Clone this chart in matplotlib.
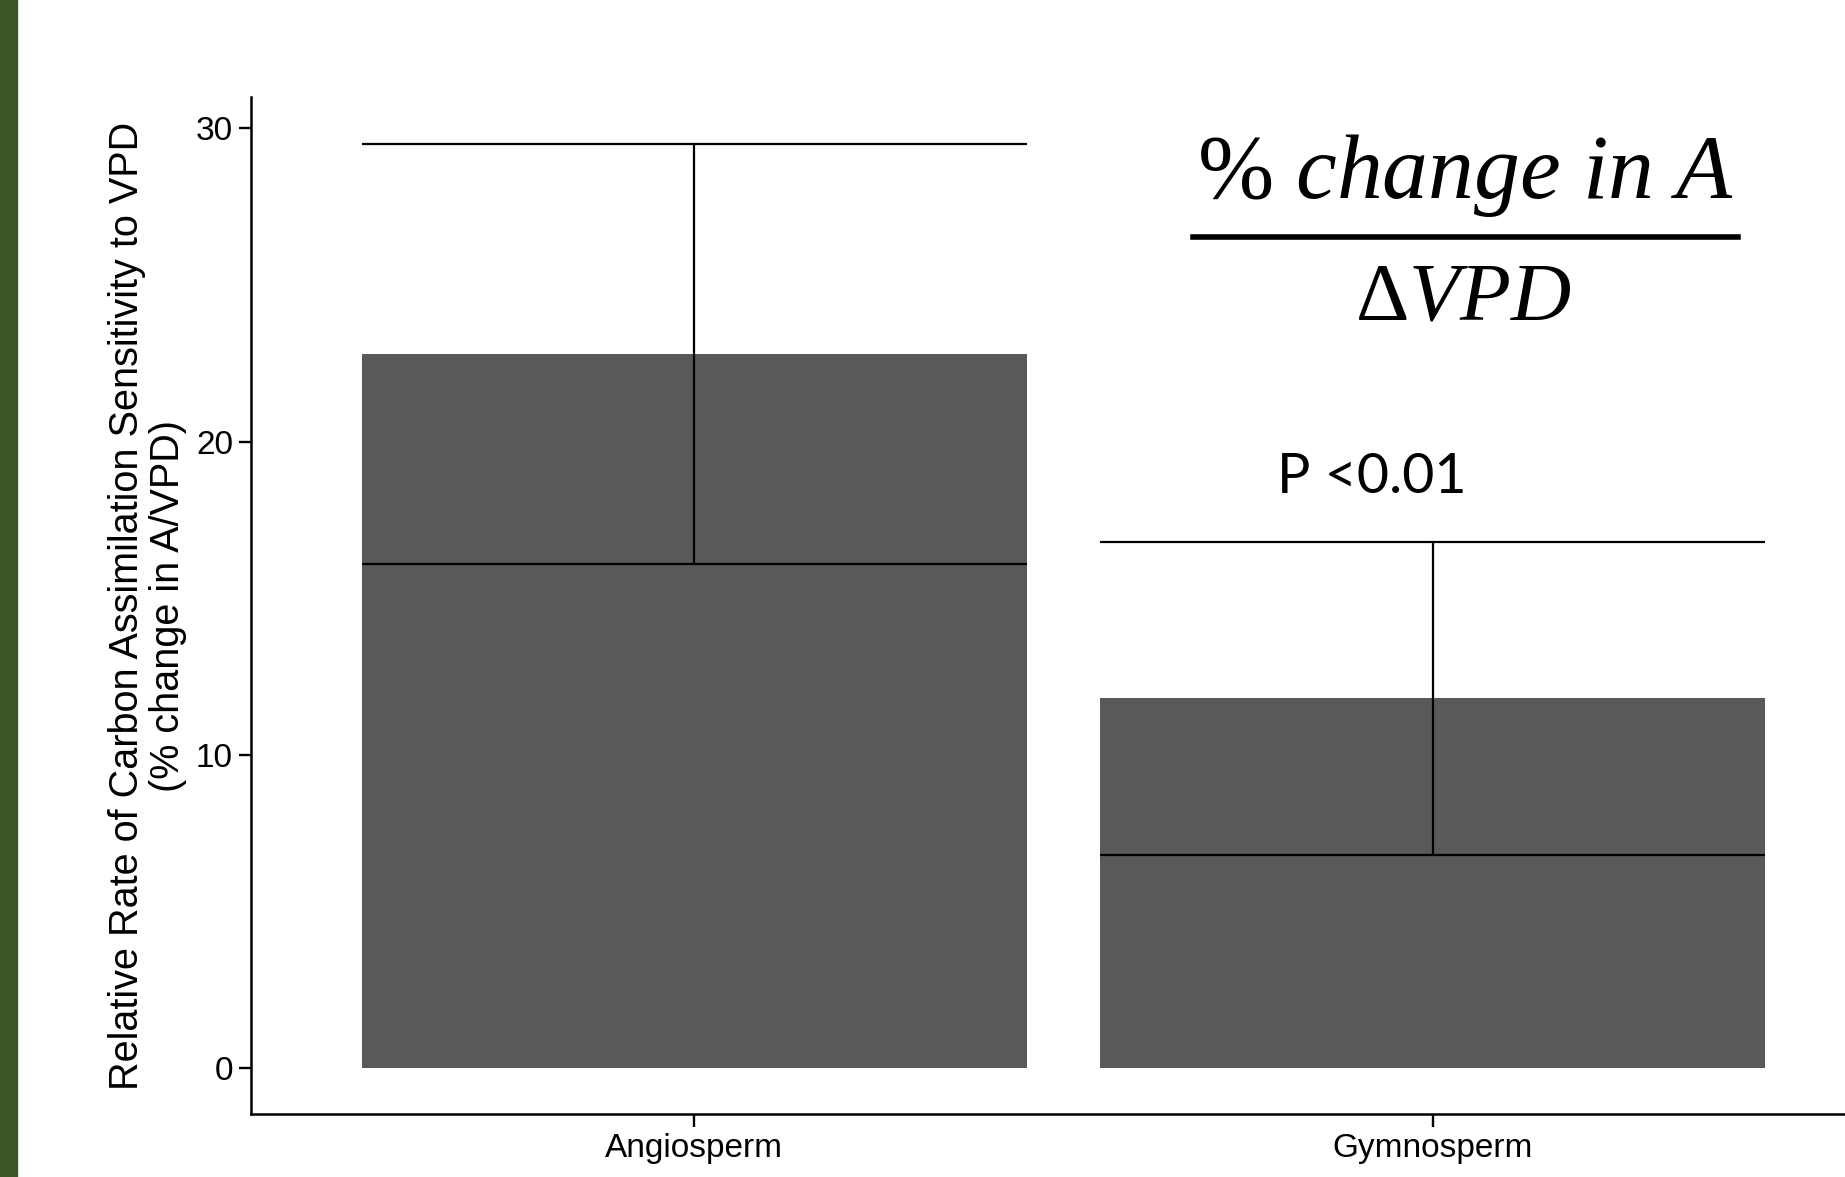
import matplotlib
matplotlib.use("Agg")
import matplotlib.pyplot as plt
from matplotlib.patches import Rectangle
from matplotlib.lines import Line2D

categories = ["Angiosperm", "Gymnosperm"]
means = [22.8, 11.8]
errors = [6.7, 5.0]
yticks = [0, 10, 20, 30]

plt.rcParams['font.family'] = ['Liberation Sans', 'DejaVu Sans']
plt.rcParams['mathtext.fontset'] = 'custom'
plt.rcParams['mathtext.rm'] = 'Liberation Serif'
plt.rcParams['mathtext.it'] = 'Liberation Serif:italic'

fig = plt.figure(figsize=(18.45, 11.77), dpi=100)
fig.patches.append(Rectangle((0, 0), 17 / 1845, 1, transform=fig.transFigure,
                             color='#3b5524', zorder=0))

ax = fig.add_axes([251 / 1845, 63 / 1177, 1625 / 1845, 1017 / 1177])
x = [1, 2]
width = 0.9
ax.bar(x, means, width=width, color='#595959', zorder=1)
lo = [m - e for m, e in zip(means, errors)]
hi = [m + e for m, e in zip(means, errors)]
ax.hlines(lo + hi, [xi - width / 2 for xi in x] * 2, [xi + width / 2 for xi in x] * 2,
          color='black', lw=1.6, zorder=2)
ax.vlines(x, lo, hi, color='black', lw=1.6, zorder=2)

ax.set_xlim(0.4, 2.6)
ax.set_ylim(-1.47, 31.0)
ax.set_xticks(x)
ax.set_xticklabels(categories, fontsize=24)
ax.set_yticks(yticks)
ax.tick_params(axis='y', labelsize=24, length=9, width=1.7, pad=4)
ax.tick_params(axis='x', length=9, width=1.7, pad=5)
for s in ['top', 'right']:
    ax.spines[s].set_visible(False)
for s in ['left', 'bottom']:
    ax.spines[s].set_linewidth(1.8)
ax.set_ylabel("Relative Rate of Carbon Assimilation Sensitivity to VPD\n(% change in A/VPD)",
              fontsize=28.5, labelpad=6, linespacing=1.1)

# fraction annotation
fig.text(1465 / 1845, 1 - 198 / 1177, r"$\mathrm{\%}\ \mathit{change\ in\ A}$", fontsize=66,
         ha='center', va='baseline')
fig.add_artist(Line2D([1193 / 1845, 1738 / 1845], [1 - 237 / 1177] * 2,
                      color='black', lw=4, transform=fig.transFigure))
fig.text(1463 / 1845, 1 - 320 / 1177, r"$\mathrm{\Delta}\mathit{VPD}$", fontsize=60,
         ha='center', va='baseline')

fig.text(1277 / 1845, 1 - 493 / 1177, "P <0.01", fontsize=40, family='Lato',
         ha='left', va='baseline')

fig.savefig("out.png", dpi=100)
